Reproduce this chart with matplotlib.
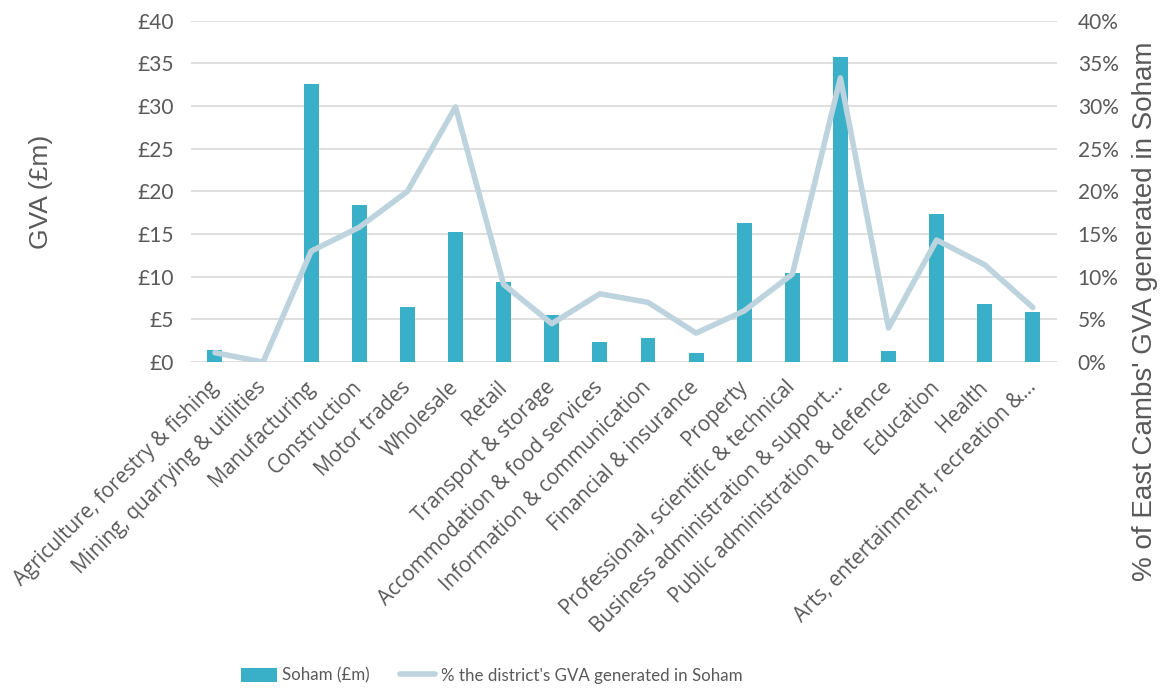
import matplotlib
matplotlib.use("Agg")
import matplotlib.pyplot as plt
from matplotlib.ticker import FuncFormatter, MultipleLocator
from matplotlib.lines import Line2D
from matplotlib.patches import Patch
import numpy as np

categories = [
    "Agriculture, forestry & fishing",
    "Mining, quarrying & utilities",
    "Manufacturing",
    "Construction",
    "Motor trades",
    "Wholesale",
    "Retail",
    "Transport & storage",
    "Accommodation & food services",
    "Information & communication",
    "Financial & insurance",
    "Property",
    "Professional, scientific & technical",
    "Business administration & support\u2026",
    "Public administration & defence",
    "Education",
    "Health",
    "Arts, entertainment, recreation &\u2026",
]

gva_soham = [1.4, 0.0, 32.6, 18.4, 6.5, 15.3, 9.4, 5.5, 2.35, 2.8,
             1.05, 16.3, 10.4, 35.7, 1.3, 17.4, 6.8, 5.9]

pct_of_district = [1.1, 0.0, 13.0, 15.8, 20.0, 29.9, 9.1, 4.5, 8.0, 7.0,
                   3.4, 6.0, 10.3, 33.3, 4.0, 14.3, 11.4, 6.4]

bar_color = "#3AB0C8"
line_color = "#BDD3DD"
grid_color = "#D9D9D9"
text_color = "#595959"

fig = plt.figure(figsize=(11.64, 6.91), dpi=100)
ax = fig.add_axes([0.164, 0.476, 0.744, 0.494])
ax2 = ax.twinx()

x = np.arange(len(categories))
ax.bar(x, gva_soham, width=0.31, color=bar_color, zorder=2)
ax2.plot(x, pct_of_district, color=line_color, lw=4.0,
         solid_capstyle="round", solid_joinstyle="round", zorder=3)

ax.set_xlim(-0.5, len(categories) - 0.5)
ax.set_ylim(0, 40)
ax2.set_ylim(0, 40)
ax.yaxis.set_major_locator(MultipleLocator(5))
ax2.yaxis.set_major_locator(MultipleLocator(5))
ax.yaxis.set_major_formatter(FuncFormatter(lambda v, p: f"\u00a3{v:.0f}"))
ax2.yaxis.set_major_formatter(FuncFormatter(lambda v, p: f"{v:.0f}%"))

ax.grid(axis="y", color=grid_color, lw=1.2, zorder=0)
ax.set_axisbelow(True)
for a in (ax, ax2):
    for s in a.spines.values():
        s.set_visible(False)
    a.tick_params(length=0, colors=text_color)

ax.tick_params(axis="y", pad=12, labelsize=15)
ax2.tick_params(axis="y", pad=15, labelsize=15)
for lab in ax.get_yticklabels() + ax2.get_yticklabels():
    lab.set_fontfamily("Lato")

ax.set_xticks(x)
ax.set_xticklabels(categories, rotation=45, ha="right", va="center",
                   rotation_mode="anchor", fontsize=14.8,
                   family="Open Sans", color=text_color)
ax.tick_params(axis="x", pad=16)

# axis titles placed in figure coordinates
fig.text(0.035, 0.723, "GVA (\u00a3m)", rotation=90, ha="center",
         va="center", fontsize=19, family="Liberation Sans",
         color=text_color)
fig.text(0.984, 0.55, "% of East Cambs' GVA generated in Soham",
         rotation=90, ha="center", va="center", fontsize=20,
         family="Liberation Sans", color=text_color)

handles = [
    Patch(facecolor=bar_color, label="Soham (\u00a3m)"),
    Line2D([0], [0], color=line_color, lw=4.0, solid_capstyle="round",
           label="% the district's GVA generated in Soham"),
]
fig.legend(handles=handles, loc="center left",
           bbox_to_anchor=(0.194, 0.022), ncol=2, frameon=False,
           prop={"family": "Lato", "size": 12.2},
           handlelength=2.1, handleheight=0.9, columnspacing=1.8,
           labelcolor=text_color, handletextpad=0.3)

fig.savefig("out.png", dpi=100)
